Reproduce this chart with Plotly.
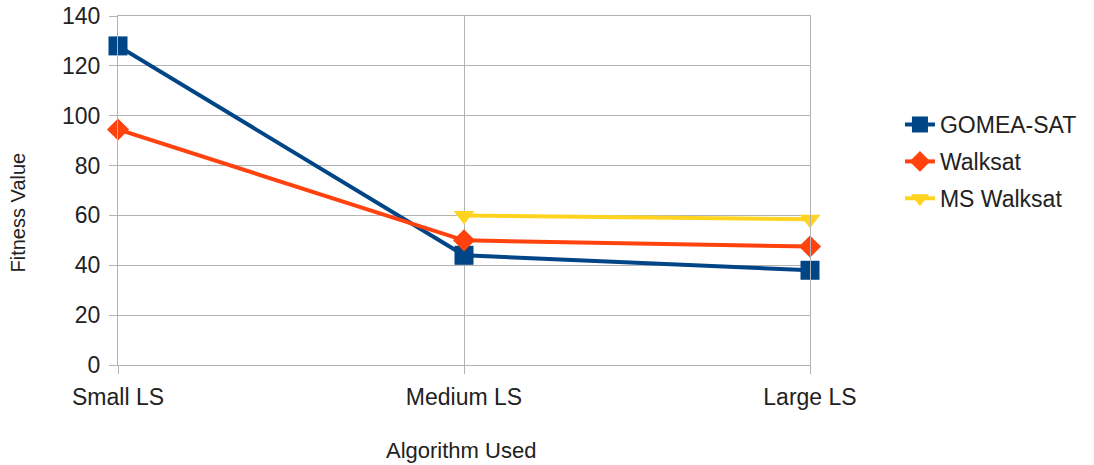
import plotly.graph_objects as go

categories = ["Small LS", "Medium LS", "Large LS"]
gomea_sat = [128, 44, 38]
walksat = [94.5, 50, 47.5]
ms_walksat = [None, 60, 58.5]

y_ticks = [0, 20, 40, 60, 80, 100, 120, 140]

FONT = "Liberation Sans, Arial, sans-serif"
GRID = "#b3b3b3"
TEXT = "#222222"

series = [
    ("GOMEA-SAT", gomea_sat, "#004586", "square", 19),
    ("Walksat", walksat, "#ff420e", "diamond", 17),
    ("MS Walksat", ms_walksat, "#ffd320", "triangle-down", 18),
]

fig = go.Figure()
for name, values, color, symbol, size in series:
    fig.add_trace(go.Scatter(
        x=categories, y=values, name=name, legendgroup=name,
        mode="lines+markers",
        line=dict(color=color, width=4),
        marker=dict(symbol=symbol, size=size, color=color),
        cliponaxis=False,
    ))

# axis titles
fig.add_annotation(
    text="Fitness Value", textangle=-90,
    xref="paper", yref="paper", x=-0.144, y=0.438,
    xanchor="center", yanchor="middle", showarrow=False,
    font=dict(size=20, family=FONT, color=TEXT),
)
fig.add_annotation(
    text="Algorithm Used",
    xref="paper", yref="paper", x=0.495, y=-0.245,
    xanchor="center", yanchor="middle", showarrow=False,
    font=dict(size=22, family=FONT, color=TEXT),
)

fig.update_layout(
    width=1094, height=465,
    margin=dict(l=118, r=282, t=16, b=100),
    paper_bgcolor="white", plot_bgcolor="white",
    font=dict(family=FONT, color=TEXT, size=23),
    legend=dict(
        x=1.13, y=0.583, xanchor="left", yanchor="middle",
        font=dict(size=23), tracegroupgap=4, itemwidth=30,
    ),
    xaxis=dict(
        type="category", range=[0, 2], automargin=False,
        showgrid=True, gridcolor=GRID, gridwidth=1,
        showline=True, linecolor=GRID, mirror=True, zeroline=False,
        ticks="outside", ticklen=8, tickcolor=GRID,
        ticklabelstandoff=3,
        tickfont=dict(size=23),
    ),
    yaxis=dict(
        range=[0, 140], tickvals=y_ticks, automargin=False,
        showgrid=True, gridcolor=GRID, gridwidth=1,
        showline=True, linecolor=GRID, mirror=True, zeroline=False,
        ticks="outside", ticklen=8, tickcolor=GRID,
        ticklabelstandoff=4,
        tickfont=dict(size=23),
    ),
)

fig.write_html("out.html")
